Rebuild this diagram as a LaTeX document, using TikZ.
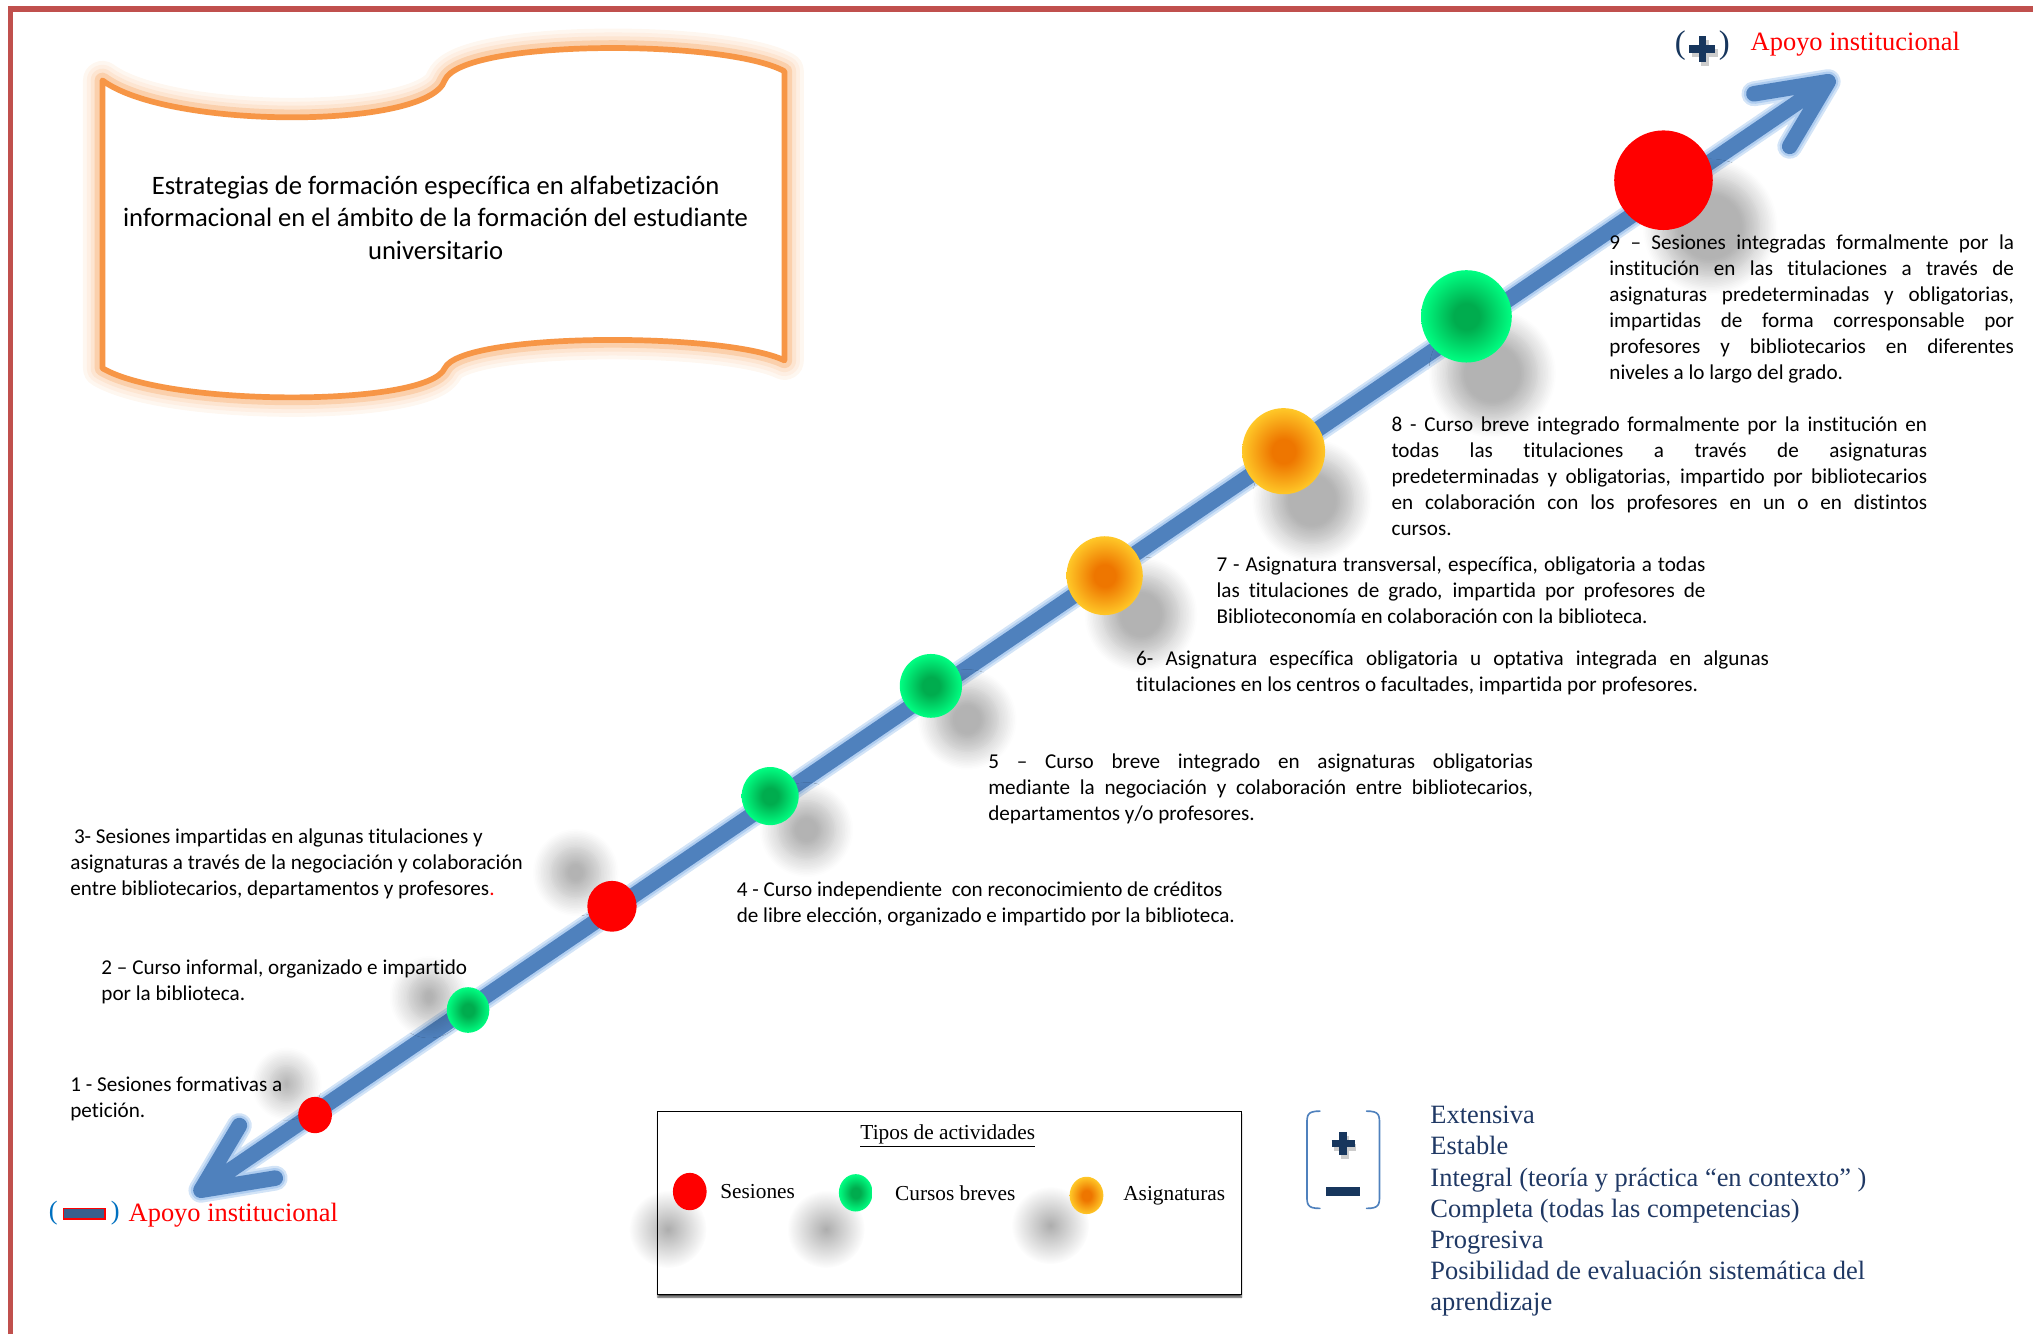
\documentclass[tikz,border=0pt]{standalone}
\usepackage{fontspec}
\setmainfont{Carlito}[Ligatures=NoCommon]
\newfontfamily\timesfont{Liberation Serif}
\usepackage{tikz}
\usetikzlibrary{shapes,arrows,positioning,calc,shadows.blur,fadings}
\setlength{\parindent}{0pt}

\definecolor{framered}{RGB}{192,80,77}
\definecolor{scrollorange}{RGB}{247,150,70}
\definecolor{arrowblue}{RGB}{79,129,189}
\definecolor{glowblue}{RGB}{175,205,240}
\definecolor{navy}{RGB}{23,54,93}
\definecolor{listblue}{RGB}{31,56,100}
\definecolor{parenblue}{RGB}{0,112,192}
\definecolor{barblue}{RGB}{58,95,140}
\definecolor{gdark}{RGB}{0,172,78}
\definecolor{glight}{RGB}{0,255,130}
\definecolor{odark}{RGB}{238,118,0}
\definecolor{olight}{RGB}{255,200,40}

\pgfdeclareradialshading{greenball}{\pgfpoint{0bp}{0bp}}{color(0bp)=(gdark); color(7bp)=(gdark); color(25bp)=(glight); color(50bp)=(glight)}
\pgfdeclareradialshading{orangeball}{\pgfpoint{0bp}{0bp}}{color(0bp)=(odark); color(7bp)=(odark); color(25bp)=(olight); color(50bp)=(olight)}
\tikzfading[name=softblob, inner color=transparent!0, outer color=transparent!100]

\newcommand\bodyfont{\fontsize{11.6}{14.23}\selectfont\spaceskip=0.226em plus 1.5em minus 0.03em\relax}
\newcommand\titlefont{\fontsize{14.6}{17.8}\selectfont}
\newcommand\seriffont{\timesfont\fontsize{14.5}{17.07}\selectfont}
\newcommand\legendfont{\timesfont\fontsize{11.7}{14}\selectfont}

\begin{document}
\begin{tikzpicture}[
    x=0.025cm, y=-0.025cm,
    pageframe/.style={draw=framered, line width=0.1cm},
    scroll/.style={draw=scrollorange, line width=0.11cm, line join=round,
        preaction={draw=scrollorange!8, line width=0.75cm, line join=round},
        preaction={draw=scrollorange!15, line width=0.6cm, line join=round},
        preaction={draw=scrollorange!25, line width=0.45cm, line join=round},
        preaction={draw=scrollorange!45, line width=0.3cm, line join=round}},
    axisline/.style={draw=arrowblue, line width=0.3cm, line cap=round, line join=round,
        preaction={draw=glowblue!55, line width=0.48cm, line cap=round, line join=round},
        preaction={draw=glowblue, line width=0.39cm, line cap=round, line join=round}},
    dot/.style={ellipse, inner sep=0pt},
    sesion/.style={dot, fill=red},
    curso/.style={dot, shade, shading=greenball},
    asig/.style={dot, shade, shading=orangeball},
    dotsize/.style 2 args={minimum width=#1, minimum height=#2},
    dropsh/.style 2 args={blur shadow={shadow xshift=#1, shadow yshift=#2, shadow blur radius=0.35cm, shadow blur steps=12, shadow opacity=30}},
    shadowblob/.style={fill=black, fill opacity=0.32, path fading=softblob},
    item/.style={font=\bodyfont, inner sep=0pt, anchor=north west, align=left},
    jtext/.style={font=\bodyfont, inner sep=0pt, anchor=north west, text width=#1, align=justify},
    titletext/.style={font=\titlefont, align=center, inner sep=0pt},
    support/.style={font=\seriffont, text=red, inner sep=0pt, anchor=west},
    qualities/.style={font=\seriffont, text=listblue, align=left, inner sep=0pt, anchor=north west},
    legendbox/.style={rectangle, draw=black, line width=0.6pt, fill=white, minimum width=11.25cm, minimum height=3.525cm, anchor=north west, inner sep=0pt,
        blur shadow={shadow xshift=0pt, shadow yshift=-0.05cm, shadow blur radius=0.03cm, shadow opacity=70}},
    legendtext/.style={font=\legendfont, inner sep=0pt},
    legenddot/.style={dotsize={0.65cm}{0.72cm}},
    bigparen/.style={font=\timesfont\fontsize{18}{20}\selectfont, text=navy, inner sep=0pt},
    smallparen/.style={font=\seriffont, text=parenblue, inner sep=0pt},
    symbar/.style={draw=navy, line width=0.15cm},
    bracketline/.style={draw=arrowblue, line width=0.9pt, line cap=round},
    minusbar/.style={rectangle, draw=red, line width=0.9pt, fill=barblue, minimum width=0.8cm, minimum height=0.2cm, inner sep=0pt}
]
    \useasboundingbox (0,0) rectangle (1568,1029);
    \draw[pageframe] (8,1029) -- (8,7) -- (1568,7);

    % title scroll
    \draw[scroll, fill=white] (79,62) .. controls (130,100) and (330,100) .. (343,62)
        .. controls (356,30) and (560,30) .. (605,55) -- (605,278)
        .. controls (560,256) and (356,256) .. (343,284)
        .. controls (330,314) and (130,314) .. (79,284) -- cycle;
    \node[titletext] (title) at (336,168) {Estrategias de formación específica en alfabetización\\informacional en el ámbito de la formación del estudiante\\universitario};

    % axis
    \coordinate (low) at (155,918);
    \coordinate (high) at (1410,63);
    \draw[axisline] (low) -- (high)
        ($(high)!1.45cm!25:(low)$) -- (high) -- ($(high)!1.45cm!-25:(low)$)
        ($(low)!1.45cm!25:(high)$) -- (low) -- ($(low)!1.45cm!-25:(high)$);

    \node[sesion, dotsize={0.65cm}{0.7cm}, dropsh={-0.55cm}{0.6cm}] (s1) at (243,860) {};
    \node[curso, dotsize={0.82cm}{0.88cm}, dropsh={-0.75cm}{0.25cm}] (s2) at (361,779) {};
    \node[sesion, dotsize={0.95cm}{0.98cm}, dropsh={-0.7cm}{0.65cm}] (s3) at (472,699) {};
    \node[curso, dotsize={1.1cm}{1.12cm}, dropsh={0.7cm}{-0.65cm}] (s4) at (594,614) {};
    \node[curso, dotsize={1.2cm}{1.23cm}, dropsh={0.7cm}{-0.65cm}] (s5) at (718,529) {};
    \node[asig, dotsize={1.47cm}{1.52cm}, dropsh={0.7cm}{-0.75cm}] (s6) at (852,444) {};
    \node[asig, dotsize={1.6cm}{1.66cm}, dropsh={0.55cm}{-0.95cm}] (s7) at (990,348) {};
    \node[curso, dotsize={1.75cm}{1.78cm}, dropsh={0.5cm}{-1.1cm}] (s8) at (1131,244) {};
    \node[sesion, dotsize={1.9cm}{1.92cm}, dropsh={0.9cm}{-0.9cm}] (s9) at (1283,139) {};

    % end labels
    \node[bigparen] (topparen) at (1313,35) {(\hspace{0.64cm})};
    \draw[symbar, draw=black, opacity=0.2] (1305,41) -- (1325,41) (1315,31) -- (1315,51);
    \draw[symbar] (1303,38) -- (1323,38) (1313,28) -- (1313,48);
    \node[support] (topsupport) at (1350,34) {Apoyo institucional};
    \node[smallparen] (lowparen) at (65,936) {(\hspace{1.03cm})};
    \node[minusbar] (lowbar) at (lowparen) {};
    \node[support] (lowsupport) at (99,937) {Apoyo institucional};

    % descriptions
    \node[jtext=7.8cm] (t9) at (1241,181) {9 – Sesiones integradas formalmente por la\linebreak institución en las titulaciones a través de\linebreak asignaturas predeterminadas y obligatorias,\linebreak impartidas de forma corresponsable por\linebreak profesores y bibliotecarios en diferentes\linebreak niveles a lo largo del grado.};
    \node[jtext=10.325cm] (t8) at (1073,321) {8 - Curso breve integrado formalmente por la institución en\linebreak todas las titulaciones a través de asignaturas\linebreak predeterminadas y obligatorias, impartido por bibliotecarios\linebreak en colaboración con los profesores en un o en distintos\linebreak cursos.};
    \node[jtext=9.425cm] (t7) at (938,429) {7 - Asignatura transversal, específica, obligatoria a todas\linebreak las titulaciones de grado, impartida por profesores de\linebreak Biblioteconomía en colaboración con la biblioteca.};
    \node[jtext=12.2cm] (t6) at (876,502) {6- Asignatura específica obligatoria u optativa integrada en algunas\linebreak titulaciones en los centros o facultades, impartida por profesores.};
    \node[jtext=10.5cm] (t5) at (762,581) {5 – Curso breve integrado en asignaturas obligatorias\linebreak mediante la negociación y colaboración entre bibliotecarios,\linebreak departamentos y/o profesores.};
    \node[item] (t4) at (568,680) {4 - Curso independiente\ \ con reconocimiento de créditos\\de libre elección, organizado e impartido por la biblioteca.};
    \node[item] (t3) at (54,639) {\hspace{2pt}3- Sesiones impartidas en algunas titulaciones y\\asignaturas a través de la negociación y colaboración\\entre bibliotecarios, departamentos y profesores{\color{red}.}};
    \node[item] (t2) at (78,740) {2 – Curso informal, organizado e impartido\\por la biblioteca.};
    \node[item] (t1) at (54,830) {1 - Sesiones formativas a\\petición.};

    % legend
    \node[legendbox] (legend) at (507,857) {};
    \node[legendtext] (legendtitle) at (731,876) {\underline{Tipos de actividades}};
    \fill[shadowblob] (515,948) circle (0.75cm);
    \fill[shadowblob] (637,948) circle (0.75cm);
    \fill[shadowblob] (810,945) circle (0.75cm);
    \node[sesion, legenddot] (lgses) at (532,919) {};
    \node[curso, legenddot] (lgcur) at (660,920) {};
    \node[asig, legenddot] (lgasi) at (838,922) {};
    \node[legendtext, right=0.25cm of lgses] (lgsestxt) {Sesiones};
    \node[legendtext, right=0.42cm of lgcur] (lgcurtxt) {Cursos breves};
    \node[legendtext, right=0.37cm of lgasi] (lgasitxt) {Asignaturas};

    % scale of qualities
    \draw[bracketline] (1018,857) .. controls (1008,857) and (1008,860) .. (1008,868) -- (1008,921) .. controls (1008,929) and (1008,932) .. (1018,932);
    \draw[bracketline] (1054,857) .. controls (1064,857) and (1064,860) .. (1064,868) -- (1064,921) .. controls (1064,929) and (1064,932) .. (1054,932);
    \draw[symbar, draw=black, opacity=0.2] (1029,885) -- (1046,885) (1037.5,876) -- (1037.5,894);
    \draw[symbar] (1027,882) -- (1045,882) (1036,873) -- (1036,891);
    \draw[symbar, line width=0.16cm] (1023,919) -- (1049,919);
    \node[qualities] (qualities) at (1103,853) {Extensiva\\Estable\\Integral (teoría y práctica “en contexto” )\\Completa (todas las competencias)\\Progresiva\\Posibilidad de evaluación sistemática del\\aprendizaje};
\end{tikzpicture}
\end{document}
